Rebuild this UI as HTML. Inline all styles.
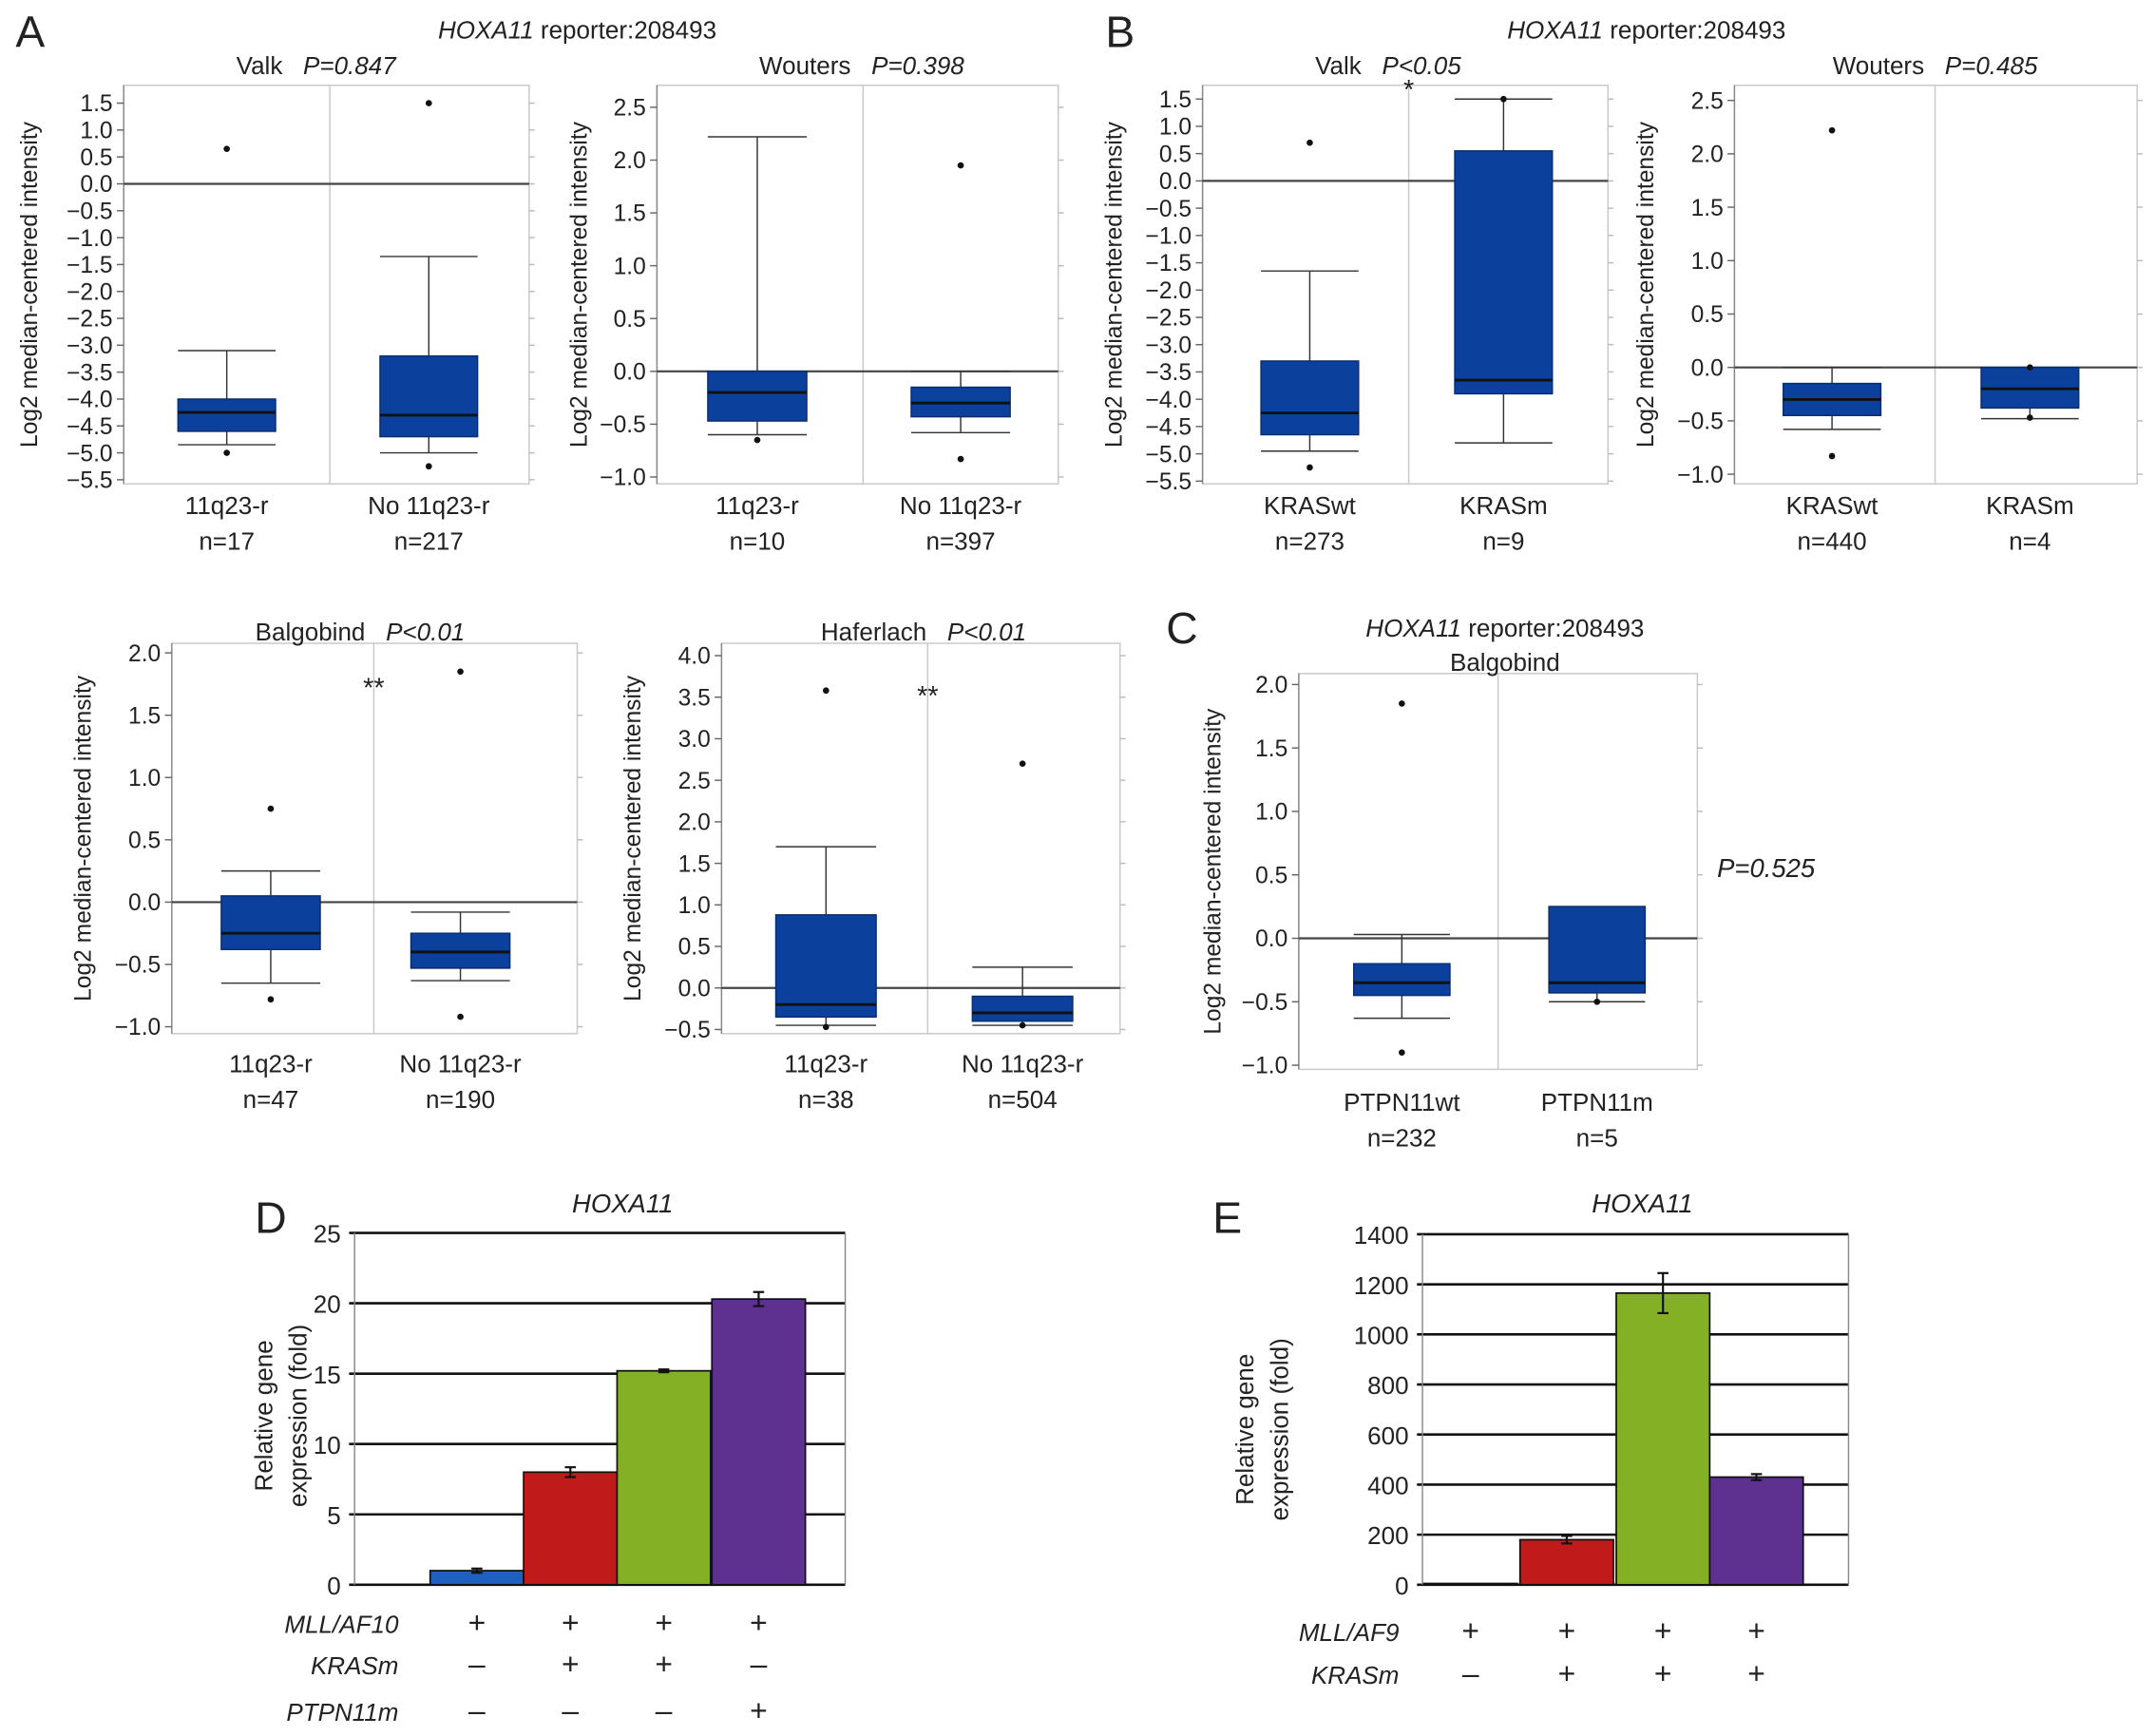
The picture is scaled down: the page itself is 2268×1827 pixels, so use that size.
<!DOCTYPE html>
<html><head><meta charset="utf-8"><style>
html,body{margin:0;padding:0;background:#fff}
svg{display:block}
text{font-family:"Liberation Sans",Arial,sans-serif;fill:#222}
</style></head><body>
<svg id="fig" width="2268" height="1827" viewBox="0 0 1568 1263" xmlns="http://www.w3.org/2000/svg"></svg>
<script>
// ---------- Box plot data ----------
const bpValkMll = {cats:["11q23-r","No 11q23-r"], ns:["n=17","n=217"], q1:[-4.6,-4.7], q3:[-4.0,-3.2], med:[-4.25,-4.3], wlo:[-4.85,-5.0], whi:[-3.1,-1.35], out:[[0.65,-5.0],[1.5,-5.25]], ticks:[1.5,1.0,0.5,0.0,-0.5,-1.0,-1.5,-2.0,-2.5,-3.0,-3.5,-4.0,-4.5,-5.0,-5.5]};
const bpWoutMll = {cats:["11q23-r","No 11q23-r"], ns:["n=10","n=397"], q1:[-0.47,-0.43], q3:[0.0,-0.15], med:[-0.2,-0.3], wlo:[-0.6,-0.58], whi:[2.22,0.0], out:[[-0.65],[1.95,-0.83]], ticks:[2.5,2.0,1.5,1.0,0.5,0.0,-0.5,-1.0]};
const bpValkKras = {cats:["KRASwt","KRASm"], ns:["n=273","n=9"], q1:[-4.65,-3.9], q3:[-3.3,0.55], med:[-4.25,-3.65], wlo:[-4.95,-4.8], whi:[-1.65,1.5], out:[[0.7,-5.25],[1.5]], ticks:[1.5,1.0,0.5,0.0,-0.5,-1.0,-1.5,-2.0,-2.5,-3.0,-3.5,-4.0,-4.5,-5.0,-5.5]};
const bpWoutKras = {cats:["KRASwt","KRASm"], ns:["n=440","n=4"], q1:[-0.45,-0.38], q3:[-0.15,0.0], med:[-0.3,-0.2], wlo:[-0.58,-0.48], whi:[0.0,0.0], out:[[2.22,-0.83],[0.0,-0.47]], ticks:[2.5,2.0,1.5,1.0,0.5,0.0,-0.5,-1.0]};
const bpBalg = {cats:["11q23-r","No 11q23-r"], ns:["n=47","n=190"], q1:[-0.38,-0.53], q3:[0.05,-0.25], med:[-0.25,-0.4], wlo:[-0.65,-0.63], whi:[0.25,-0.08], out:[[0.75,-0.78],[1.85,-0.92]], ticks:[2.0,1.5,1.0,0.5,0.0,-0.5,-1.0]};
const bpHaf = {cats:["11q23-r","No 11q23-r"], ns:["n=38","n=504"], q1:[-0.35,-0.4], q3:[0.88,-0.1], med:[-0.2,-0.3], wlo:[-0.45,-0.45], whi:[1.7,0.25], out:[[3.58,-0.47],[2.7,-0.45]], ticks:[4.0,3.5,3.0,2.5,2.0,1.5,1.0,0.5,0.0,-0.5]};
const bpPtpn = {cats:["PTPN11wt","PTPN11m"], ns:["n=232","n=5"], q1:[-0.45,-0.43], q3:[-0.2,0.25], med:[-0.35,-0.35], wlo:[-0.63,-0.5], whi:[0.03,0.25], out:[[1.85,-0.9],[-0.5]], ticks:[2.0,1.5,1.0,0.5,0.0,-0.5,-1.0]};
// ---------- Bar data ----------
const dVals = [1, 8, 15.2, 20.3];
const dErr = [0.15, 0.35, 0.1, 0.5];
const dTicks = [0,5,10,15,20,25];
const eVals = [5, 180, 1165, 430];
const eErr = [0, 15, 80, 12];
const eTicks = [0,200,400,600,800,1000,1200,1400];
const barColors = ["#1f5fc0","#c01a1a","#84b026","#5e3190"];

const S = document.getElementById('fig');
const NS = "http://www.w3.org/2000/svg";
function mk(tag, attrs, name, parent){
  const el = document.createElementNS(NS, tag);
  for (const k in attrs) el.setAttribute(k, attrs[k]);
  
  
  (parent||S).appendChild(el);
  return el;
}
function txt(x,y,s,size,name,opts){
  opts=opts||{};
  const t = mk('text',{x:x,y:y,'font-size':size,'text-anchor':opts.anchor||'middle','font-style':opts.italic?'italic':'normal'},name);
  if(opts.rot) t.setAttribute('transform','rotate(-90 '+x+' '+y+')');
  t.textContent = s;
  return t;
}

function boxPanel(d, P, key){
  const yScale = v => P.y0 + (P.top - v)*(P.y1-P.y0)/(P.top-P.bot);
  const xL=P.x0, xR=P.x1;
  mk('rect',{x:xL,y:P.fy0,width:xR-xL,height:P.fy1-P.fy0,fill:'none',stroke:'#c8c8c8','stroke-width':1},key+'-frame');
  mk('line',{x1:xL,y1:P.fy0,x2:xL,y2:P.fy1,stroke:'#888','stroke-width':1},key+'-y-axis');
  mk('line',{x1:P.div,y1:P.fy0,x2:P.div,y2:P.fy1,stroke:'#c8c8c8','stroke-width':1},key+'-divider');
  d.ticks.forEach(v=>{
    const y=yScale(v);
    mk('line',{x1:xL-5,y1:y,x2:xL,y2:y,stroke:'#666'},key+'-tick');
    mk('line',{x1:xR,y1:y,x2:xR+4,y2:y,stroke:'#bbb'},key+'-tick-right');
    txt(xL-8,y+6,v.toFixed(1).replace('-','\u2212'),17,key+'-tick-label',{anchor:'end'});
  });
  const y0=yScale(0);
  mk('line',{x1:xL,y1:y0,x2:xR,y2:y0,stroke:'#444','stroke-width':1.5},key+'-zero-line');
  d.cats.forEach((c,i)=>{
    const cx=P.cx[i], hw=P.bw/2;
    mk('line',{x1:cx,y1:yScale(d.whi[i]),x2:cx,y2:yScale(d.wlo[i]),stroke:'#333'},key+'-whisker');
    mk('line',{x1:cx-hw,y1:yScale(d.whi[i]),x2:cx+hw,y2:yScale(d.whi[i]),stroke:'#333'},key+'-whisker-cap');
    mk('line',{x1:cx-hw,y1:yScale(d.wlo[i]),x2:cx+hw,y2:yScale(d.wlo[i]),stroke:'#333'},key+'-whisker-cap');
    mk('rect',{x:cx-hw,y:yScale(d.q3[i]),width:P.bw,height:yScale(d.q1[i])-yScale(d.q3[i]),fill:'#0b409c',stroke:'#0a2d6e'},key+'-box');
    mk('line',{x1:cx-hw,y1:yScale(d.med[i]),x2:cx+hw,y2:yScale(d.med[i]),stroke:'#111','stroke-width':2},key+'-median');
    d.out[i].forEach(o=>mk('circle',{cx:cx,cy:yScale(o),r:2.3,fill:'#111'},key+'-outlier'));
    txt(cx,P.ly,c,18,key+'-category-label');
    txt(cx,P.ly+26,d.ns[i],18,key+'-n-label');
  });
  txt(P.atx,(P.fy0+P.fy1)/2,'Log2 median-centered intensity',17,key+'-y-axis-title',{rot:true});
}

boxPanel(bpValkMll,{x0:90,x1:385,fy0:62,fy1:352,top:1.5,bot:-5.5,y0:75,y1:349,div:240,cx:[165,312],bw:71,ly:374,atx:27},'valk-mll');
boxPanel(bpWoutMll,{x0:478,x1:770,fy0:62,fy1:352,top:2.5,bot:-1.0,y0:78,y1:347,div:628,cx:[551,699],bw:72,ly:374,atx:427},'wouters-mll');
boxPanel(bpValkKras,{x0:875,x1:1170,fy0:62,fy1:352,top:1.5,bot:-5.5,y0:72,y1:350,div:1025,cx:[953,1094],bw:71,ly:374,atx:816},'valk-kras');
boxPanel(bpWoutKras,{x0:1262,x1:1555,fy0:62,fy1:352,top:2.5,bot:-1.0,y0:73,y1:345,div:1408,cx:[1333,1477],bw:71,ly:374,atx:1203},'wouters-kras');
boxPanel(bpBalg,{x0:125,x1:420,fy0:468,fy1:752,top:2.0,bot:-1.0,y0:475,y1:747,div:272,cx:[197,335],bw:72,ly:780,atx:66},'balgobind-mll');
boxPanel(bpHaf,{x0:525,x1:815,fy0:468,fy1:752,top:4.0,bot:-0.5,y0:477,y1:749,div:675,cx:[601,744],bw:73,ly:780,atx:466},'haferlach-mll');
boxPanel(bpPtpn,{x0:945,x1:1235,fy0:490,fy1:778,top:2.0,bot:-1.0,y0:498,y1:775,div:1090,cx:[1020,1162],bw:70,ly:808,atx:888},'balgobind-ptpn');

function title(x,y,pre,italicPart,name){
  const t = mk('text',{x:x,y:y,'font-size':18,'text-anchor':'middle'},name);
  const a=document.createElementNS(NS,'tspan'); a.textContent=pre; t.appendChild(a);
  const b=document.createElementNS(NS,'tspan'); b.setAttribute('font-style','italic'); b.textContent=italicPart; t.appendChild(b);
}
function header(x,y,name){
  const t = mk('text',{x:x,y:y,'font-size':18,'text-anchor':'middle'},name);
  const a=document.createElementNS(NS,'tspan'); a.setAttribute('font-style','italic'); a.textContent='HOXA11'; t.appendChild(a);
  const b=document.createElementNS(NS,'tspan'); b.textContent=' reporter:208493'; t.appendChild(b);
}
header(420,28,'panel-a-header');
header(1198,28,'panel-b-header');
header(1095,463,'panel-c-header');
txt(1095,488,'Balgobind',18,'panel-c-subtitle');
title(230,54,'Valk\u00a0\u00a0\u00a0','P=0.847','valk-mll-title');
title(627,54,'Wouters\u00a0\u00a0\u00a0','P=0.398','wouters-mll-title');
title(1010,54,'Valk\u00a0\u00a0\u00a0','P<0.05','valk-kras-title');
title(1408,54,'Wouters\u00a0\u00a0\u00a0','P=0.485','wouters-kras-title');
title(262,466,'Balgobind\u00a0\u00a0\u00a0','P<0.01','balgobind-mll-title');
title(672,466,'Haferlach\u00a0\u00a0\u00a0','P<0.01','haferlach-mll-title');
txt(1025,72,'*',20,'valk-kras-significance');
txt(272,507,'**',20,'balgobind-significance');
txt(675,513,'**',20,'haferlach-significance');
txt(1285,638,'P=0.525',19,'ptpn-p-value',{italic:true});

txt(22,34,'A',32,'panel-letter-a');
txt(815,34,'B',32,'panel-letter-b');
txt(860,468,'C',32,'panel-letter-c');
txt(197,897,'D',32,'panel-letter-d');
txt(893,897,'E',32,'panel-letter-e');

function barPanel(vals,errs,ticks,P,key){
  const max=ticks[ticks.length-1];
  const yS=v=>P.y0-(v/max)*(P.y0-P.y1);
  ticks.forEach(v=>{
    const y=yS(v);
    mk('line',{x1:P.x0-4,y1:y,x2:P.x1,y2:y,stroke:'#111','stroke-width':1.8},key+'-gridline');
    txt(P.x0-10,y+7,String(v),18,key+'-tick-label',{anchor:'end'});
  });
  mk('line',{x1:P.x0,y1:P.y1,x2:P.x0,y2:P.y0,stroke:'#888'},key+'-y-axis');
  mk('line',{x1:P.x1,y1:P.y1,x2:P.x1,y2:P.y0,stroke:'#888'},key+'-right-border');
  vals.forEach((v,i)=>{
    const cx=P.cx[i];
    mk('rect',{x:cx-P.bw/2,y:yS(v),width:P.bw,height:P.y0-yS(v),fill:barColors[i],stroke:'#111','stroke-width':1.2},key+'-bar');
    if(errs[i]>0){
      const a=yS(v+errs[i]),b=yS(v-errs[i]);
      mk('line',{x1:cx,y1:a,x2:cx,y2:b,stroke:'#111','stroke-width':1.5},key+'-error-bar');
      mk('line',{x1:cx-4,y1:a,x2:cx+4,y2:a,stroke:'#111','stroke-width':1.5},key+'-error-cap');
      mk('line',{x1:cx-4,y1:b,x2:cx+4,y2:b,stroke:'#111','stroke-width':1.5},key+'-error-cap');
    }
  });
  txt(P.tx,P.ty,'HOXA11',19,key+'-title',{italic:true});
  txt(P.ax,P.ay,'Relative gene',18,key+'-y-axis-title-1',{rot:true});
  txt(P.ax+25,P.ay,'expression (fold)',18,key+'-y-axis-title-2',{rot:true});
}
barPanel(dVals,dErr,dTicks,{x0:258,x1:615,y0:1153,y1:897,cx:[347,415,483,552],bw:68,tx:453,ty:882,ax:198,ay:1030},'panel-d');
barPanel(eVals,eErr,eTicks,{x0:1035,x1:1345,y0:1153,y1:898,cx:[1070,1140,1210,1278],bw:68,tx:1195,ty:882,ax:912,ay:1040},'panel-e');

const dRows=["MLL/AF10","KRASm","PTPN11m"];
const dSigns=[["+","+","+","+"],["\u2013","+","+","\u2013"],["\u2013","\u2013","\u2013","+"]];
const dRowY=[1188,1218,1252];
dRows.forEach((r,j)=>{
  txt(290,dRowY[j],r,18,'panel-d-row-label',{anchor:'end',italic:true});
  dSigns[j].forEach((s,i)=>txt([347,415,483,552][i],dRowY[j],s,22,'panel-d-sign'));
});
const eRows=["MLL/AF9","KRASm"];
const eSigns=[["+","+","+","+"],["\u2013","+","+","+"]];
const eRowY=[1194,1225];
eRows.forEach((r,j)=>{
  txt(1018,eRowY[j],r,18,'panel-e-row-label',{anchor:'end',italic:true});
  eSigns[j].forEach((s,i)=>txt([1070,1140,1210,1278][i],eRowY[j],s,22,'panel-e-sign'));
});
</script>
</body></html>
